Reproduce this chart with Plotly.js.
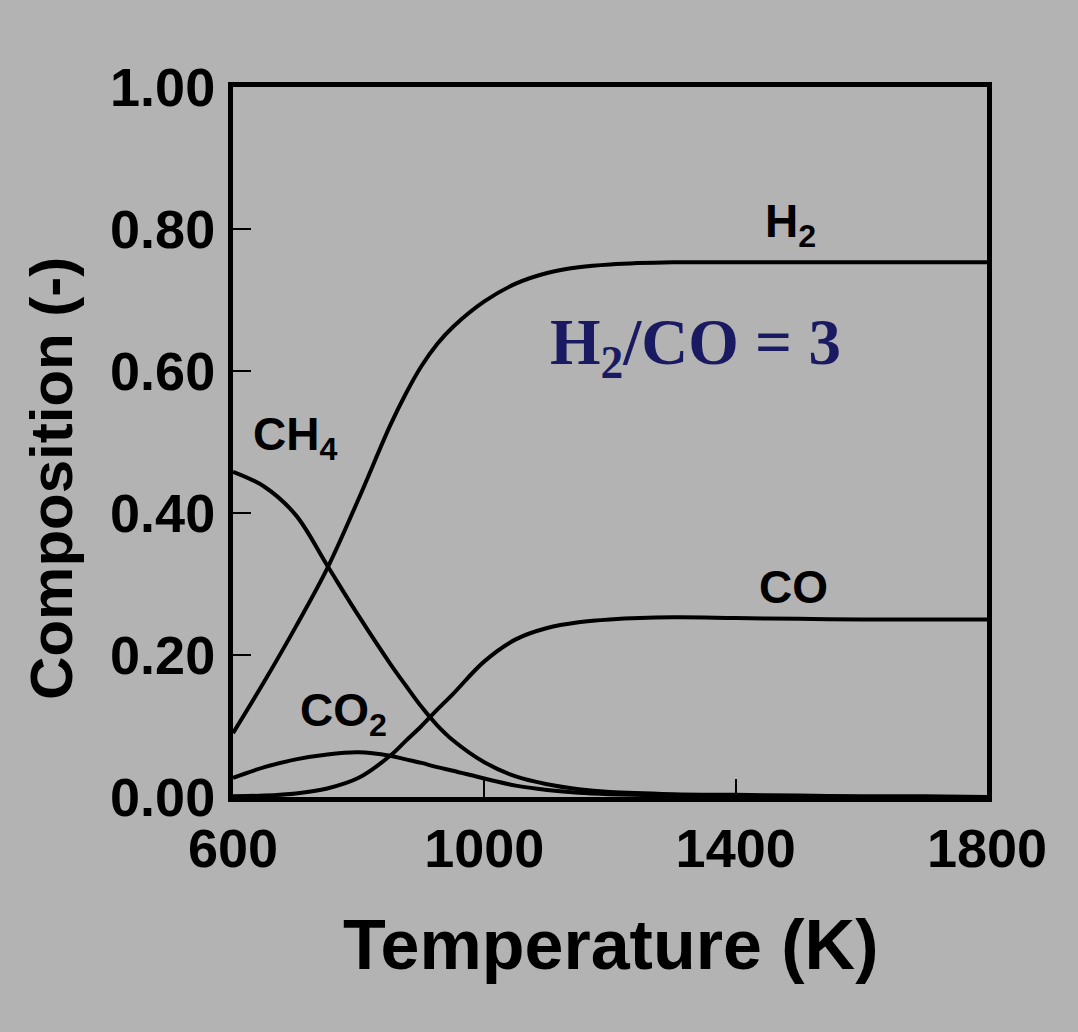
<!DOCTYPE html>
<html>
<head>
<meta charset="utf-8">
<script src="https://cdn.plot.ly/plotly-3.0.1.min.js"></script>
<style>
  html, body { margin: 0; padding: 0; background: #b3b3b3; }
  #chart { width: 1078px; height: 1032px; }
</style>
</head>
<body>
<div id="chart"></div>
<script>
// Temperature (K)
const temperature = [600, 650, 700, 750, 800, 850, 875, 900, 925, 950, 1000, 1050, 1100, 1150, 1200, 1300, 1400, 1500, 1600, 1700, 1800];
// Equilibrium composition (-)
const h2  = [0.090, 0.163, 0.240, 0.322, 0.420, 0.523, 0.568, 0.607, 0.638, 0.662, 0.698, 0.723, 0.738, 0.746, 0.750, 0.753, 0.753, 0.753, 0.753, 0.753, 0.753];
const ch4 = [0.458, 0.437, 0.397, 0.326, 0.255, 0.188, 0.157, 0.127, 0.101, 0.080, 0.049, 0.029, 0.018, 0.011, 0.007, 0.004, 0.003, 0.002, 0.001, 0.001, 0.000];
const co2 = [0.027, 0.042, 0.053, 0.060, 0.063, 0.058, 0.053, 0.048, 0.042, 0.037, 0.026, 0.016, 0.010, 0.006, 0.004, 0.002, 0.001, 0.001, 0.000, 0.000, 0.000];
const co  = [0.001, 0.002, 0.005, 0.012, 0.027, 0.058, 0.079, 0.100, 0.123, 0.145, 0.191, 0.222, 0.238, 0.246, 0.250, 0.253, 0.252, 0.251, 0.250, 0.250, 0.250];

const xTicks = [600, 1000, 1400, 1800];
const xTickText = ['600', '1000', '1400', '1800'];
const yTicks = [0, 0.2, 0.4, 0.6, 0.8, 1.0];
const yTickText = ['0.00', '0.20', '0.40', '0.60', '0.80', '1.00'];

// species labels: [text, x (K), y (-)]
const labels = [
  ['H<sub>2</sub>', 1443, 0.807],
  ['CH<sub>4</sub>', 628, 0.506],
  ['CO<sub>2</sub>', 703, 0.118],
  ['CO', 1434, 0.296]
];
const ratioText = 'H<sub>2</sub>/CO = 3';

const lineStyle = {color: '#000000', width: 4, shape: 'spline', smoothing: 1};
const series = [h2, ch4, co2, co];
const names = ['H2', 'CH4', 'CO2', 'CO'];
const traces = series.map((s, i) => ({
  x: temperature, y: s, type: 'scatter', mode: 'lines', name: names[i],
  line: lineStyle, hoverinfo: 'skip'
}));

const labelFont = {family: 'Liberation Sans, Arial, sans-serif', size: 46, color: '#000000'};
const annotations = labels.map(l => ({
  text: '<b>' + l[0] + '</b>', x: l[1], y: l[2], xref: 'x', yref: 'y',
  xanchor: 'left', yanchor: 'middle', showarrow: false, font: labelFont
}));
annotations.push({
  text: '<b>' + ratioText + '</b>', x: 1101, y: 0.634, xref: 'x', yref: 'y',
  xanchor: 'left', yanchor: 'middle', showarrow: false,
  font: {family: 'Liberation Serif, Times New Roman, serif', size: 65, color: '#1a1a62'}
});
annotations.push({
  text: '<b>Temperature (K)</b>', x: 0.5, y: -0.2085, xref: 'paper', yref: 'paper',
  xanchor: 'center', yanchor: 'middle', showarrow: false,
  font: {family: 'Liberation Sans, Arial, sans-serif', size: 70, color: '#000000'}
});
annotations.push({
  text: '<b>Composition (-)</b>', x: 0, y: 0.448, xref: 'paper', yref: 'paper',
  xshift: -181, xanchor: 'center', yanchor: 'middle', textangle: -90, showarrow: false,
  font: {family: 'Liberation Sans, Arial, sans-serif', size: 60, color: '#000000'}
});

const tickFont = {family: 'Liberation Sans, Arial, sans-serif', size: 54, color: '#000000', weight: 'bold'};

const layout = {
  width: 1078, height: 1032,
  margin: {l: 233, r: 91, t: 87, b: 235, pad: 0},
  paper_bgcolor: '#b3b3b3', plot_bgcolor: '#b3b3b3',
  showlegend: false,
  xaxis: {
    range: [600, 1800], tickvals: xTicks, ticktext: xTickText,
    ticks: 'inside', ticklen: 18, tickwidth: 2, tickcolor: '#000000',
    showline: true, linewidth: 5, linecolor: '#000000', mirror: true,
    showgrid: false, zeroline: false, tickfont: tickFont, ticklabelstandoff: 0
  },
  yaxis: {
    range: [0, 1.0], tickvals: yTicks, ticktext: yTickText,
    ticks: 'inside', ticklen: 18, tickwidth: 2, tickcolor: '#000000',
    showline: true, linewidth: 5, linecolor: '#000000', mirror: true,
    showgrid: false, zeroline: false, tickfont: tickFont, ticklabelstandoff: 2
  },
  annotations: annotations
};

Plotly.newPlot('chart', traces, layout, {staticPlot: true, displayModeBar: false});
</script>
</body>
</html>
